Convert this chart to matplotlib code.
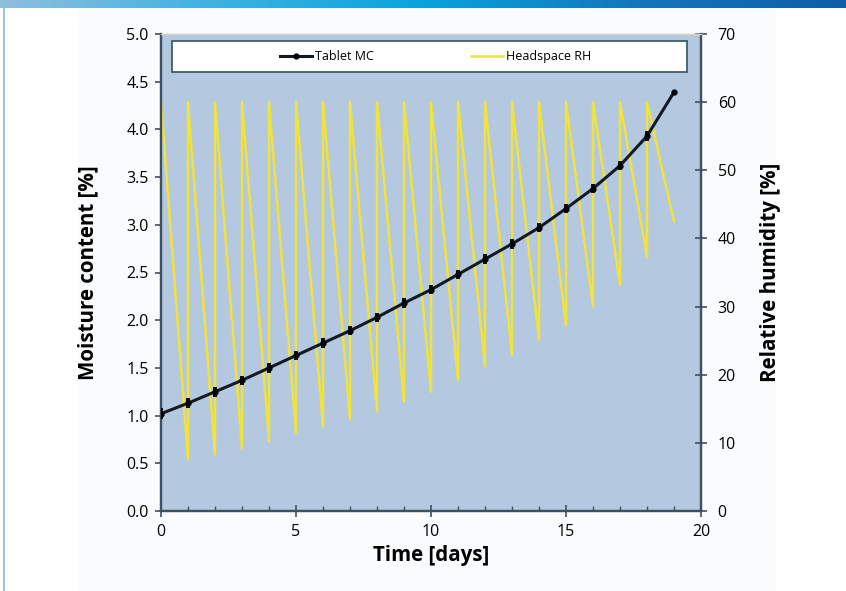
import matplotlib
matplotlib.use("Agg")
import matplotlib.pyplot as plt
from matplotlib.patches import Rectangle
from matplotlib.colors import LinearSegmentedColormap
import numpy as np

plt.rcParams['font.family'] = ['Open Sans', 'DejaVu Sans']

# ---- data ----
mc_days = [0, 1, 2, 3, 4, 5, 6, 7, 8, 9, 10, 11, 12, 13, 14, 15, 16, 17, 18, 19]
mc_vals = [1.02, 1.13, 1.25, 1.37, 1.50, 1.63, 1.76, 1.89, 2.03, 2.18, 2.32,
           2.48, 2.64, 2.80, 2.97, 3.17, 3.38, 3.62, 3.93, 4.39]
mc_err = [0.06, 0.05, 0.05, 0.05, 0.05, 0.05, 0.05, 0.05, 0.05, 0.05, 0.05,
          0.05, 0.05, 0.05, 0.05, 0.05, 0.05, 0.05, 0.05, 0.0]

rh_days = [0, 1, 1, 2, 2, 3, 3, 4, 4, 5, 5, 6, 6, 7, 7, 8, 8, 9, 9, 10, 10,
           11, 11, 12, 12, 13, 13, 14, 14, 15, 15, 16, 16, 17, 17, 18, 18, 19]
rh_vals = [60, 7.6, 60, 8.3, 60, 9.2, 60, 10.3, 60, 11.4, 60, 12.4, 60, 13.5, 60,
           14.6, 60, 16.0, 60, 17.5, 60, 19.2, 60, 21.2, 60, 22.9, 60, 25.1, 60,
           27.2, 60, 30.0, 60, 33.2, 60, 37.3, 60, 42.5]

x_ticks = [0, 5, 10, 15, 20]
left_ticks = [0.0, 0.5, 1.0, 1.5, 2.0, 2.5, 3.0, 3.5, 4.0, 4.5, 5.0]
right_ticks = [0, 10, 20, 30, 40, 50, 60, 70]

W, H = 846, 591
fig = plt.figure(figsize=(W / 100, H / 100), dpi=100)
fig.patch.set_facecolor('white')

# decorative background: pale panel, left border, gradient top bar
fig.patches.append(Rectangle((78 / W, 0), (776 - 78) / W, 1 - 8 / H,
                             transform=fig.transFigure, facecolor='#fafbfd',
                             edgecolor='none', zorder=-10))
fig.patches.append(Rectangle((3 / W, 0), 2 / W, 1, transform=fig.transFigure,
                             facecolor='#9cc3df', edgecolor='none', zorder=-9))
grad_ax = fig.add_axes([0, 1 - 8 / H, 1, 8 / H])
grad_ax.set_axis_off()
cmap = LinearSegmentedColormap.from_list('g', ['#8ebfdc', '#3fb2e0', '#0aa3dc', '#1476bb', '#0d5ea8'])
grad_ax.imshow(np.linspace(0, 1, 256)[None, :], aspect='auto', cmap=cmap,
               extent=[0, 1, 0, 1])

ax = fig.add_axes([161 / W, 1 - 511 / H, (701 - 161) / W, (511 - 34) / H])
ax2 = ax.twinx()

rh_line, = ax2.plot(rh_days, rh_vals, color='#f0e33e', lw=1.8, zorder=2,
                    label='Headspace RH')
ax.set_zorder(ax2.get_zorder() + 1)
ax.patch.set_visible(False)
ax2.patch.set_visible(True)
ax2.patch.set_facecolor('#b4c8e0')
ax.errorbar(mc_days, mc_vals, yerr=mc_err, fmt='none', ecolor='#0a0a0a',
            elinewidth=2.8, capsize=0, zorder=3)
mc_line, = ax.plot(mc_days, mc_vals, color='#111a22', lw=2.2, marker='o',
                   ms=3.5, mfc='#000000', mec='#000000', zorder=4,
                   label='Tablet MC')

ax.set_xlim(0, 20)
ax.set_ylim(0, 5)
ax2.set_ylim(0, 70)
ax.set_xticks(x_ticks)
ax.set_xticks(range(0, 21), minor=True)
ax.set_yticks(left_ticks)
ax.set_yticklabels([f'{v:.1f}' for v in left_ticks])
ax2.set_yticks(right_ticks)

spine_c = '#3d5061'
for a in (ax, ax2):
    for s in ('left', 'bottom', 'right'):
        a.spines[s].set_color(spine_c)
        a.spines[s].set_linewidth(1.6)
    a.spines['top'].set_color('#d7d3d0')
    a.spines['top'].set_linewidth(1.0)

ax.tick_params(axis='x', which='major', direction='inout', length=8, width=1.2,
               color=spine_c, labelsize=11.5, pad=5)
ax.tick_params(axis='x', which='minor', direction='in', length=3.5, width=1.0,
               color=spine_c)
ax.tick_params(axis='y', which='major', direction='out', length=4, width=1.2,
               color=spine_c, labelsize=11.5, pad=5)
ax2.tick_params(axis='y', which='major', direction='inout', length=8, width=1.2,
                color=spine_c, labelsize=11.5, pad=8)

ax.set_xlabel('Time [days]', fontsize=14.8, fontweight='bold')
ax.xaxis.set_label_coords(0.5, -0.093)
ax.xaxis.label.set_va('center')
ax.set_ylabel('Moisture content [%]', fontsize=14.8, fontweight='bold')
ax.yaxis.set_label_coords(-0.135, 0.5)
ax.yaxis.label.set_va('center')
ax2.set_ylabel('Relative humidity [%]', fontsize=14.8, fontweight='bold',
               rotation=90)
ax2.yaxis.set_label_coords(1.128, 0.5)
ax2.yaxis.label.set_va('center')

# legend box
ax.add_patch(Rectangle(((172 - 161) / 540, (511 - 72) / 477), (687 - 172) / 540,
                       31 / 477, transform=ax.transAxes, facecolor='white',
                       edgecolor='#3f5d6e', lw=1.3, zorder=5))
leg = ax.legend([mc_line, rh_line], ['Tablet MC', 'Headspace RH'], ncol=2,
                loc='center', bbox_to_anchor=(0.508, (511 - 56.5) / 477),
                frameon=False, fontsize=9, handlelength=2.6, handletextpad=0.2,
                columnspacing=7.8)
leg.set_zorder(6)

fig.savefig('out.png', dpi=100)
